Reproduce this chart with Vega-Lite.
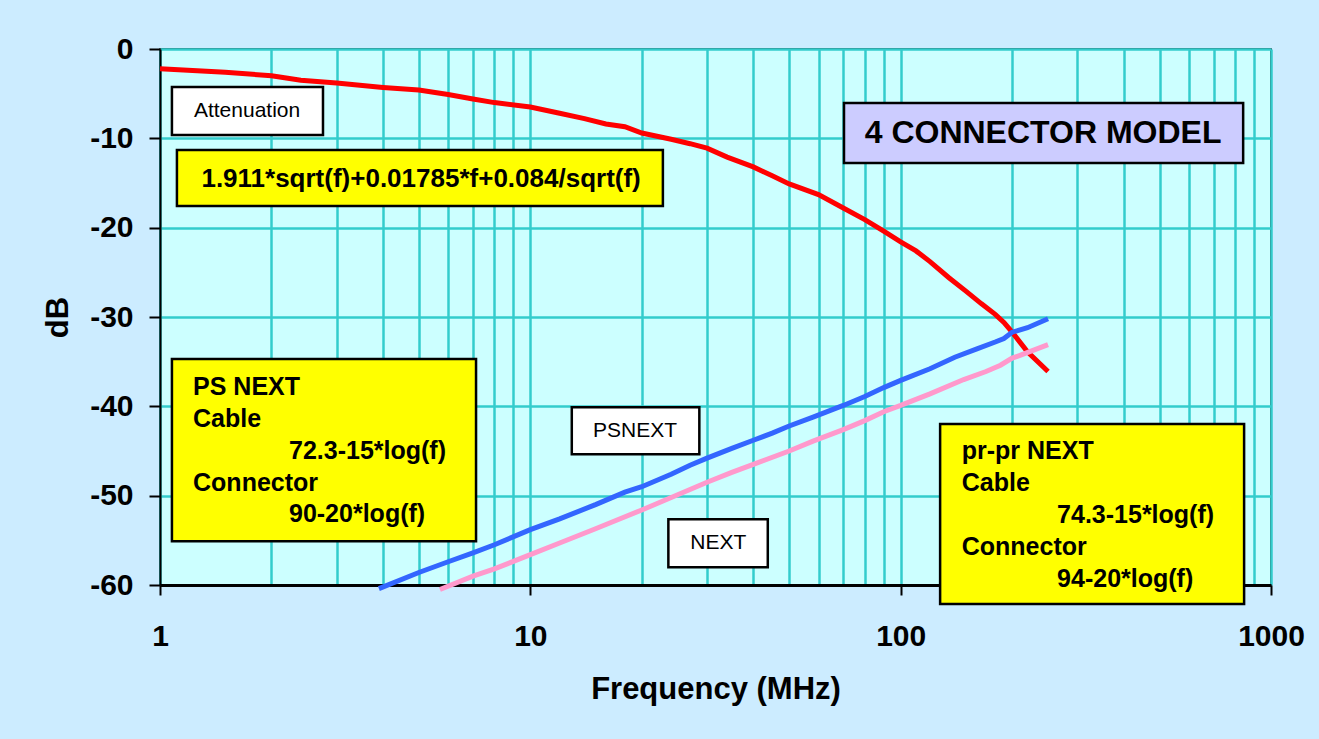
{
  "$schema": "https://vega.github.io/schema/vega-lite/v6.json",
  "width": 1111,
  "height": 536,
  "autosize": "none",
  "padding": {"left": 160, "top": 49, "right": 48, "bottom": 154},
  "background": "#CCECFF",
  "config": {
    "font": "Liberation Sans",
    "view": {"fill": "#CCFFFF", "stroke": "#000000", "strokeWidth": 1.5},
    "axis": {"zindex": 0}
  },
  "datasets": {
    "curves": [
      {"s": "Attenuation", "f": 1, "db": -2.2},
      {"s": "Attenuation", "f": 1.5, "db": -2.6},
      {"s": "Attenuation", "f": 2, "db": -3.0},
      {"s": "Attenuation", "f": 2.4, "db": -3.5},
      {"s": "Attenuation", "f": 3, "db": -3.8},
      {"s": "Attenuation", "f": 4, "db": -4.3},
      {"s": "Attenuation", "f": 5, "db": -4.6},
      {"s": "Attenuation", "f": 6, "db": -5.1},
      {"s": "Attenuation", "f": 7, "db": -5.6},
      {"s": "Attenuation", "f": 8, "db": -6.0},
      {"s": "Attenuation", "f": 10, "db": -6.5},
      {"s": "Attenuation", "f": 12, "db": -7.2},
      {"s": "Attenuation", "f": 14, "db": -7.8},
      {"s": "Attenuation", "f": 16, "db": -8.4},
      {"s": "Attenuation", "f": 18, "db": -8.7},
      {"s": "Attenuation", "f": 20, "db": -9.4},
      {"s": "Attenuation", "f": 24, "db": -10.1},
      {"s": "Attenuation", "f": 27, "db": -10.6},
      {"s": "Attenuation", "f": 30, "db": -11.1},
      {"s": "Attenuation", "f": 34, "db": -12.1},
      {"s": "Attenuation", "f": 40, "db": -13.2},
      {"s": "Attenuation", "f": 45, "db": -14.2},
      {"s": "Attenuation", "f": 50, "db": -15.1},
      {"s": "Attenuation", "f": 60, "db": -16.3},
      {"s": "Attenuation", "f": 70, "db": -17.8},
      {"s": "Attenuation", "f": 80, "db": -19.1},
      {"s": "Attenuation", "f": 90, "db": -20.4},
      {"s": "Attenuation", "f": 100, "db": -21.6},
      {"s": "Attenuation", "f": 110, "db": -22.6},
      {"s": "Attenuation", "f": 120, "db": -23.8},
      {"s": "Attenuation", "f": 135, "db": -25.6},
      {"s": "Attenuation", "f": 150, "db": -27.1},
      {"s": "Attenuation", "f": 165, "db": -28.5},
      {"s": "Attenuation", "f": 180, "db": -29.7},
      {"s": "Attenuation", "f": 190, "db": -30.6},
      {"s": "Attenuation", "f": 200, "db": -31.7},
      {"s": "Attenuation", "f": 220, "db": -33.9},
      {"s": "Attenuation", "f": 250, "db": -36.1},
      {"s": "PSNEXT", "f": 3.9, "db": -60.4},
      {"s": "PSNEXT", "f": 5, "db": -58.6},
      {"s": "PSNEXT", "f": 6, "db": -57.4},
      {"s": "PSNEXT", "f": 7, "db": -56.4},
      {"s": "PSNEXT", "f": 8, "db": -55.5},
      {"s": "PSNEXT", "f": 10, "db": -53.8},
      {"s": "PSNEXT", "f": 12, "db": -52.6},
      {"s": "PSNEXT", "f": 15, "db": -51.0},
      {"s": "PSNEXT", "f": 18, "db": -49.6},
      {"s": "PSNEXT", "f": 20, "db": -49.0},
      {"s": "PSNEXT", "f": 24, "db": -47.6},
      {"s": "PSNEXT", "f": 27, "db": -46.6},
      {"s": "PSNEXT", "f": 30, "db": -45.8},
      {"s": "PSNEXT", "f": 35, "db": -44.7},
      {"s": "PSNEXT", "f": 40, "db": -43.8},
      {"s": "PSNEXT", "f": 45, "db": -43.0},
      {"s": "PSNEXT", "f": 50, "db": -42.2},
      {"s": "PSNEXT", "f": 58, "db": -41.2},
      {"s": "PSNEXT", "f": 70, "db": -39.9},
      {"s": "PSNEXT", "f": 80, "db": -38.9},
      {"s": "PSNEXT", "f": 90, "db": -37.9},
      {"s": "PSNEXT", "f": 100, "db": -37.1},
      {"s": "PSNEXT", "f": 120, "db": -35.8},
      {"s": "PSNEXT", "f": 140, "db": -34.5},
      {"s": "PSNEXT", "f": 160, "db": -33.6},
      {"s": "PSNEXT", "f": 180, "db": -32.8},
      {"s": "PSNEXT", "f": 190, "db": -32.4},
      {"s": "PSNEXT", "f": 200, "db": -31.7},
      {"s": "PSNEXT", "f": 220, "db": -31.2},
      {"s": "PSNEXT", "f": 250, "db": -30.2},
      {"s": "NEXT", "f": 5.7, "db": -60.5},
      {"s": "NEXT", "f": 7, "db": -59.0},
      {"s": "NEXT", "f": 8, "db": -58.2},
      {"s": "NEXT", "f": 10, "db": -56.6},
      {"s": "NEXT", "f": 12, "db": -55.3},
      {"s": "NEXT", "f": 15, "db": -53.7},
      {"s": "NEXT", "f": 20, "db": -51.6},
      {"s": "NEXT", "f": 25, "db": -49.9},
      {"s": "NEXT", "f": 30, "db": -48.5},
      {"s": "NEXT", "f": 35, "db": -47.4},
      {"s": "NEXT", "f": 40, "db": -46.5},
      {"s": "NEXT", "f": 50, "db": -45.0},
      {"s": "NEXT", "f": 58, "db": -43.9},
      {"s": "NEXT", "f": 70, "db": -42.6},
      {"s": "NEXT", "f": 80, "db": -41.6},
      {"s": "NEXT", "f": 90, "db": -40.6},
      {"s": "NEXT", "f": 100, "db": -39.9},
      {"s": "NEXT", "f": 120, "db": -38.6},
      {"s": "NEXT", "f": 148, "db": -37.0},
      {"s": "NEXT", "f": 170, "db": -36.1},
      {"s": "NEXT", "f": 186, "db": -35.4},
      {"s": "NEXT", "f": 200, "db": -34.6},
      {"s": "NEXT", "f": 210, "db": -34.3},
      {"s": "NEXT", "f": 250, "db": -33.1}
    ],
    "boxes": [
      {"kind": "note", "f": 1.077, "f2": 2.755, "db": -4.25, "db2": -9.63},
      {"kind": "formula", "f": 1.111, "f2": 22.8, "db": -11.31, "db2": -17.58},
      {"kind": "model", "f": 70.3, "f2": 841, "db": -6.04, "db2": -12.76},
      {"kind": "formula", "f": 1.077, "f2": 7.135, "db": -34.7, "db2": -55.1},
      {"kind": "formula", "f": 127.8, "f2": 846, "db": -41.98, "db2": -62.13},
      {"kind": "note", "f": 12.94, "f2": 28.6, "db": -40.11, "db2": -45.37},
      {"kind": "note", "f": 23.59, "f2": 43.77, "db": -52.65, "db2": -58.02}
    ],
    "labels": [
      {"group": "note", "text": "Attenuation", "f": 1.718, "db": -6.94},
      {"group": "note", "text": "PSNEXT", "f": 19.17, "db": -42.73},
      {"group": "note", "text": "NEXT", "f": 32.19, "db": -55.33},
      {"group": "formula", "text": "1.911*sqrt(f)+0.01785*f+0.084/sqrt(f)", "f": 5.07, "db": -14.55},
      {"group": "model", "text": "4 CONNECTOR MODEL", "f": 242.4, "db": -9.44},
      {"group": "box", "text": "PS NEXT", "f": 1.228, "db": -37.78},
      {"group": "box", "text": "Cable", "f": 1.228, "db": -41.42},
      {"group": "box", "text": "72.3-15*log(f)", "f": 2.23, "db": -45.0},
      {"group": "box", "text": "Connector", "f": 1.228, "db": -48.58},
      {"group": "box", "text": "90-20*log(f)", "f": 2.23, "db": -52.1},
      {"group": "box", "text": "pr-pr NEXT", "f": 146.2, "db": -44.98},
      {"group": "box", "text": "Cable", "f": 146.2, "db": -48.56},
      {"group": "box", "text": "74.3-15*log(f)", "f": 264.5, "db": -52.11},
      {"group": "box", "text": "Connector", "f": 146.2, "db": -55.75},
      {"group": "box", "text": "94-20*log(f)", "f": 264.5, "db": -59.31}
    ]
  },
  "encoding": {
    "x": {
      "field": "f",
      "type": "quantitative",
      "scale": {"type": "log", "domain": [1, 1000], "nice": false},
      "axis": {
        "title": "Frequency (MHz)",
        "values": [1, 2, 3, 4, 5, 6, 7, 8, 9, 10, 20, 30, 40, 50, 60, 70, 80, 90, 100, 200, 300, 400, 500, 600, 700, 800, 900, 1000],
        "labelExpr": "(datum.value == 1 || datum.value == 10 || datum.value == 100 || datum.value == 1000) ? toString(datum.value) : ''",
        "labelOverlap": false,
        "labelBound": false,
        "labelFlush": false,
        "labelFont": "Liberation Sans",
        "labelFontSize": 30,
        "labelFontWeight": "bold",
        "labelColor": "#000000",
        "labelPadding": 26,
        "tickSize": 10,
        "tickWidth": 2,
        "tickColor": "#000000",
        "tickOpacity": {"condition": {"test": "datum.value == 1 || datum.value == 10 || datum.value == 100 || datum.value == 1000", "value": 1}, "value": 0},
        "domainColor": "#000000",
        "domainWidth": 3,
        "grid": true,
        "gridColor": "#33CCCC",
        "gridWidth": 2.5,
        "gridOpacity": 1,
        "titleFont": "Liberation Sans",
        "titleFontSize": 31,
        "titleFontWeight": "bold",
        "titleColor": "#000000",
        "titlePadding": 23
      }
    },
    "y": {
      "field": "db",
      "type": "quantitative",
      "scale": {"domain": [-60, 0], "nice": false, "zero": false},
      "axis": {
        "title": "dB",
        "values": [-60, -50, -40, -30, -20, -10, 0],
        "labelExpr": "toString(datum.value)",
        "labelFont": "Liberation Sans",
        "labelFontSize": 30,
        "labelFontWeight": "bold",
        "labelColor": "#000000",
        "labelPadding": 16,
        "tickSize": 11,
        "tickWidth": 2,
        "tickColor": "#000000",
        "domainColor": "#000000",
        "domainWidth": 2,
        "grid": true,
        "gridColor": "#33CCCC",
        "gridWidth": 2.5,
        "gridOpacity": 1,
        "titleFont": "Liberation Sans",
        "titleFontSize": 31,
        "titleFontWeight": "bold",
        "titleColor": "#000000",
        "titlePadding": 15
      }
    }
  },
  "layer": [
    {
      "data": {"name": "curves"},
      "mark": {"type": "line", "strokeWidth": 5, "clip": false},
      "encoding": {
        "stroke": {
          "field": "s",
          "type": "nominal",
          "scale": {"domain": ["Attenuation", "PSNEXT", "NEXT"], "range": ["#FF0000", "#3366FF", "#FF99CC"]},
          "legend": null
        },
        "order": {"field": "f", "type": "quantitative"}
      }
    },
    {
      "data": {"name": "boxes"},
      "mark": {"type": "rect", "stroke": "#000000", "strokeWidth": 2.5, "clip": false},
      "encoding": {
        "x2": {"field": "f2"},
        "y2": {"field": "db2"},
        "fill": {
          "field": "kind",
          "type": "nominal",
          "scale": {"domain": ["note", "formula", "model"], "range": ["#FFFFFF", "#FFFF00", "#CCCCFF"]},
          "legend": null
        }
      }
    },
    {
      "data": {"name": "labels"},
      "transform": [{"filter": "datum.group == 'note'"}],
      "mark": {"type": "text", "font": "Liberation Sans", "fontSize": 21, "color": "#000000", "align": "center", "baseline": "middle"},
      "encoding": {"text": {"field": "text"}}
    },
    {
      "data": {"name": "labels"},
      "transform": [{"filter": "datum.group == 'formula'"}],
      "mark": {"type": "text", "font": "Liberation Sans", "fontSize": 26, "fontWeight": "bold", "color": "#000000", "align": "center", "baseline": "middle"},
      "encoding": {"text": {"field": "text"}}
    },
    {
      "data": {"name": "labels"},
      "transform": [{"filter": "datum.group == 'model'"}],
      "mark": {"type": "text", "font": "Liberation Sans", "fontSize": 32, "fontWeight": "bold", "color": "#000000", "align": "center", "baseline": "middle"},
      "encoding": {"text": {"field": "text"}}
    },
    {
      "data": {"name": "labels"},
      "transform": [{"filter": "datum.group == 'box'"}],
      "mark": {"type": "text", "font": "Liberation Sans", "fontSize": 25, "fontWeight": "bold", "color": "#000000", "align": "left", "baseline": "middle", "clip": false},
      "encoding": {"text": {"field": "text"}}
    }
  ]
}
